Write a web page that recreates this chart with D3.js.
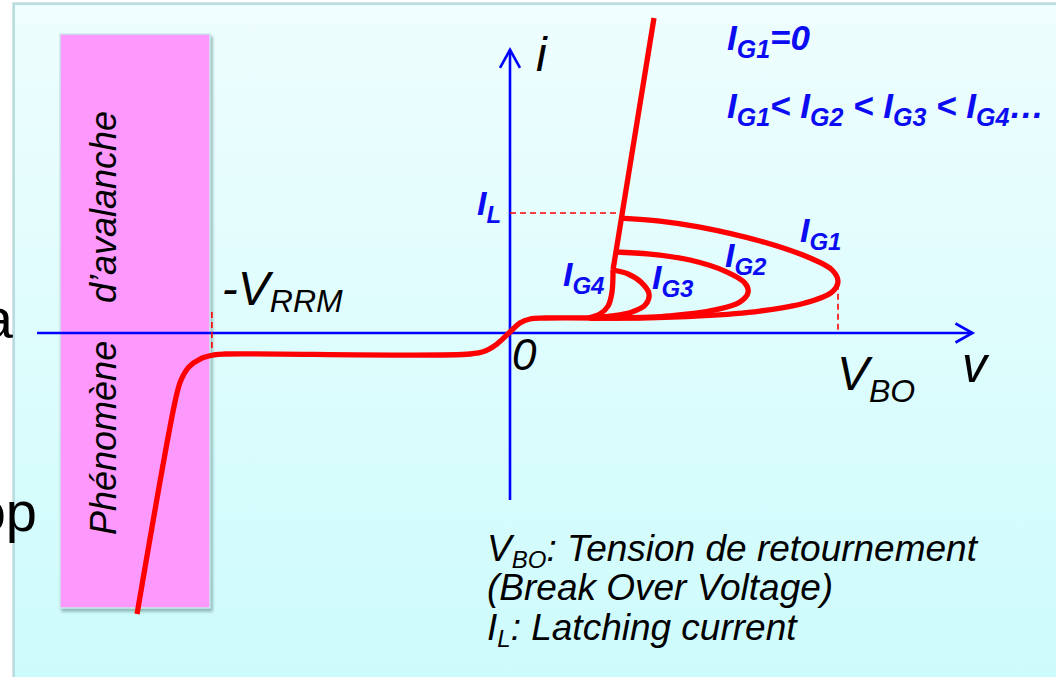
<!DOCTYPE html>
<html>
<head>
<meta charset="utf-8">
<script src="https://cdn.jsdelivr.net/npm/d3@7"></script>
<style>
  body { margin: 0; background: #ffffff; }
  svg { display: block; }
  text { font-family: "Liberation Sans", Arial, sans-serif; }
</style>
</head>
<body>
<div id="chart"></div>
<script>
// units: v normalised so that V_BO = 1, i normalised so that I_L = 1
var vBO = 1, iL = 1, vRRM = -0.909;
var xAxisExtent = [-1.442, 1.41];
var yAxisExtent = [-1.392, 2.36];

// blocking / reverse branch, from avalanche up to the forward blocking level
var blockingCurve = [
    [-1.137, -2.342], [-1.018, -0.533], [-1.003, -0.392], [-0.979, -0.283],
    [-0.945, -0.217], [-0.902, -0.183], [-0.869, -0.175], [-0.122, -0.175],
    [-0.076, -0.150], [-0.040, -0.092], [0, 0.008], [0.030, 0.083],
    [0.061, 0.117], [0.107, 0.125], [0.274, 0.125]
];
// on-state (conducting) line
var onStateLine = [[0.439, 2.625], [0.314, 0.525]];
// gate current curves
var curveG1 = [
    [0.335, 0.958], [0.457, 0.933], [0.579, 0.883], [0.762, 0.767], [0.915, 0.625],
    [0.982, 0.525], [1.0, 0.43], [0.982, 0.342], [0.899, 0.25], [0.762, 0.183],
    [0.579, 0.142], [0.396, 0.125], [0.244, 0.125]
];
var curveG2 = [
    [0.320, 0.675], [0.427, 0.658], [0.549, 0.608], [0.662, 0.508], [0.716, 0.417],
    [0.726, 0.342], [0.701, 0.258], [0.625, 0.192], [0.488, 0.142], [0.335, 0.125],
    [0.244, 0.125]
];
var curveG3 = [
    [0.314, 0.525], [0.360, 0.492], [0.399, 0.425], [0.424, 0.325], [0.412, 0.233],
    [0.372, 0.175], [0.311, 0.142], [0.244, 0.125]
];
var curveG4 = [
    [0.314, 0.525], [0.311, 0.342], [0.299, 0.225], [0.274, 0.158], [0.238, 0.125]
];
var gateCurves = [curveG1, curveG2, curveG3, curveG4];
// where I_L dashed line meets the on-state line
var iLDashEnd = 0.335;

var width = 1056, height = 677;

var svg = d3.select("#chart").append("svg")
    .attr("width", width)
    .attr("height", height);

var defs = svg.append("defs");
var grad = defs.append("linearGradient")
    .attr("id", "panelGrad")
    .attr("x1", 0).attr("y1", 0).attr("x2", 0).attr("y2", 1);
grad.append("stop").attr("offset", "0%").attr("stop-color", "#effefe");
grad.append("stop").attr("offset", "100%").attr("stop-color", "#cdfbfc");

var shadow = defs.append("filter").attr("id", "shadow")
    .attr("x", "-10%").attr("y", "-10%").attr("width", "120%").attr("height", "120%");
shadow.append("feDropShadow")
    .attr("dx", 2).attr("dy", 3).attr("stdDeviation", 1.5)
    .attr("flood-color", "#6f9b9b").attr("flood-opacity", 0.7);

// background panel
svg.append("rect")
    .attr("x", 12).attr("y", 2)
    .attr("width", width).attr("height", height)
    .attr("fill", "#d6e4e4");
svg.append("rect")
    .attr("x", 14).attr("y", 4)
    .attr("width", width).attr("height", height)
    .attr("fill", "url(#panelGrad)")
    .attr("stroke", "#b6dde2")
    .attr("stroke-width", 2);

var x = d3.scaleLinear().domain([0, 1]).range([510, 838]);
var y = d3.scaleLinear().domain([0, 1]).range([333, 213]);

// avalanche zone
svg.append("rect")
    .attr("x", 60).attr("y", 34)
    .attr("width", 150).attr("height", 574)
    .attr("fill", "#fd98fd")
    .attr("stroke", "#c9e9ea")
    .attr("stroke-width", 1.5)
    .attr("filter", "url(#shadow)");

svg.append("text")
    .attr("transform", "translate(116,535) rotate(-90)")
    .style("font-size", "36px")
    .style("font-style", "italic")
    .attr("fill", "#000")
    .text("Phénomène");
svg.append("text")
    .attr("transform", "translate(116,303) rotate(-90)")
    .style("font-size", "36px")
    .style("font-style", "italic")
    .attr("fill", "#000")
    .text("d’avalanche");

// cut off slide text on the left
svg.append("text").attr("x", 13).attr("y", 338)
    .attr("text-anchor", "end").style("font-size", "56px").attr("fill", "#000").text("a");
svg.append("text").attr("x", 37).attr("y", 531)
    .attr("text-anchor", "end").style("font-size", "56px").attr("fill", "#000").text("op");

// axes
var blue = "#0000ff";
var axisW = 2.6;
svg.append("line")
    .attr("x1", x(xAxisExtent[0])).attr("x2", x(xAxisExtent[1]))
    .attr("y1", y(0)).attr("y2", y(0))
    .attr("stroke", blue).attr("stroke-width", axisW);
svg.append("line")
    .attr("x1", x(0)).attr("x2", x(0))
    .attr("y1", y(yAxisExtent[0])).attr("y2", y(yAxisExtent[1]))
    .attr("stroke", blue).attr("stroke-width", axisW);
var tipX = x(xAxisExtent[1]), tipY = y(yAxisExtent[1]);
svg.append("path")
    .attr("d", "M" + (tipX - 17) + "," + (y(0) - 9.5) + "L" + tipX + "," + y(0) + "L" + (tipX - 17) + "," + (y(0) + 9.5))
    .attr("fill", "none").attr("stroke", blue).attr("stroke-width", axisW);
svg.append("path")
    .attr("d", "M" + (x(0) - 10) + "," + (tipY + 18) + "L" + x(0) + "," + tipY + "L" + (x(0) + 10) + "," + (tipY + 18))
    .attr("fill", "none").attr("stroke", blue).attr("stroke-width", axisW);

// dashed guides
var red = "#ff0000";
function dashed(x1, y1, x2, y2) {
    svg.append("line")
        .attr("x1", x1).attr("y1", y1).attr("x2", x2).attr("y2", y2)
        .attr("stroke", red).attr("stroke-width", 1.6)
        .attr("stroke-dasharray", "6,4");
}
dashed(x(0), y(iL), x(iLDashEnd), y(iL));
dashed(x(vBO), y(0.41), x(vBO), y(0.02));
dashed(x(vRRM), y(0.175), x(vRRM), y(-0.125));

// characteristic curves
var line = d3.line()
    .x(d => x(d[0]))
    .y(d => y(d[1]))
    .curve(d3.curveCatmullRom.alpha(0.5));

svg.append("path")
    .attr("d", line(blockingCurve))
    .attr("fill", "none").attr("stroke", red).attr("stroke-width", 5.3)
    .attr("stroke-linejoin", "round");
svg.selectAll(".gate")
    .data(gateCurves)
    .enter().append("path")
    .attr("class", "gate")
    .attr("d", d => line(d))
    .attr("fill", "none").attr("stroke", red).attr("stroke-width", 5.3)
    .attr("stroke-linejoin", "round");
svg.append("path")
    .attr("d", d3.line().x(d => x(d[0])).y(d => y(d[1]))(onStateLine))
    .attr("fill", "none").attr("stroke", red).attr("stroke-width", 5.3);

// axis labels
function italicLabel(px, py, size, main, sub, subSize, subDy) {
    var t = svg.append("text")
        .attr("x", px).attr("y", py)
        .style("font-style", "italic")
        .style("font-size", size + "px")
        .attr("fill", "#000");
    t.append("tspan").text(main);
    if (sub) {
        t.append("tspan").style("font-size", subSize + "px").attr("dy", subDy).text(sub);
    }
}
italicLabel(536, 71, 48, "i");
italicLabel(512, 370, 44, "0");
italicLabel(962, 382, 50, "v");
italicLabel(x(vBO) - 1, 390, 48, "V", "BO", 32, 12);
italicLabel(x(vRRM) + 10, 305, 48, "-V", "RRM", 32, 7);

// blue gate labels: [x, baseline, subscript]
var gateLabels = [
    [800, 242, "G1"], [725, 267, "G2"], [652, 289, "G3"], [563, 286, "G4"], [477, 215, "L"]
];
var labelBlue = "#0c0cf2";
function blueLabel(px, py, parts, big, small) {
    var t = svg.append("text")
        .attr("x", px).attr("y", py)
        .style("font-style", "italic")
        .style("font-weight", "bold")
        .style("font-size", big + "px")
        .attr("fill", labelBlue);
    parts.forEach(function (p) {
        if (p.sub) {
            t.append("tspan").style("font-size", small + "px").attr("dy", 8).text(p.sub);
        } else {
            t.append("tspan").attr("dy", p.back ? -8 : 0).text(p.txt);
        }
    });
}
gateLabels.forEach(function (g) {
    blueLabel(g[0], g[1], [{ txt: "I" }, { sub: g[2] }], 34, 24);
});
blueLabel(727, 50, [{ txt: "I" }, { sub: "G1" }, { txt: "=0", back: true }], 35, 25);
blueLabel(727, 118, [
    { txt: "I" }, { sub: "G1" }, { txt: "< I", back: true }, { sub: "G2" },
    { txt: " < I", back: true }, { sub: "G3" }, { txt: " < I", back: true }, { sub: "G4" },
    { txt: "…", back: true }
], 35, 25);

// notes
var notes = svg.append("g")
    .style("font-style", "italic")
    .style("font-size", "37px")
    .attr("fill", "#000");
var n1 = notes.append("text").attr("x", 487).attr("y", 561);
n1.append("tspan").text("V");
n1.append("tspan").style("font-size", "24px").attr("dy", 7).text("BO");
n1.append("tspan").attr("dy", -7).text(": Tension de retournement");
notes.append("text").attr("x", 487).attr("y", 600).text("(Break Over Voltage)");
var n3 = notes.append("text").attr("x", 487).attr("y", 640);
n3.append("tspan").text("I");
n3.append("tspan").style("font-size", "24px").attr("dy", 7).text("L");
n3.append("tspan").attr("dy", -7).text(": Latching current");
</script>
</body>
</html>
